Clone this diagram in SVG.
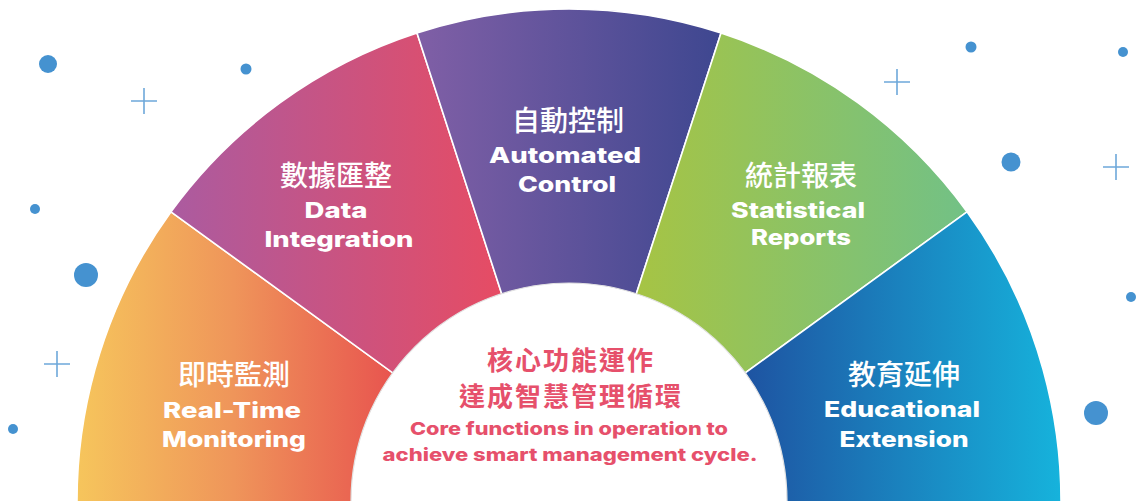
<svg xmlns="http://www.w3.org/2000/svg" width="1139" height="501" viewBox="0 0 1139 501">
  <defs>
    <linearGradient id="gOrange" gradientUnits="userSpaceOnUse" x1="75" y1="0" x2="392" y2="0">
      <stop offset="0" stop-color="#F6C65C"/>
      <stop offset="0.5" stop-color="#EF955A"/>
      <stop offset="1" stop-color="#E8554F"/>
    </linearGradient>
    <linearGradient id="gPink" gradientUnits="userSpaceOnUse" x1="171" y1="0" x2="500" y2="0">
      <stop offset="0" stop-color="#AB5BA0"/>
      <stop offset="1" stop-color="#E64C64"/>
    </linearGradient>
    <linearGradient id="gPurple" gradientUnits="userSpaceOnUse" x1="417" y1="0" x2="721" y2="0">
      <stop offset="0" stop-color="#805FA6"/>
      <stop offset="1" stop-color="#3E4790"/>
    </linearGradient>
    <linearGradient id="gGreen" gradientUnits="userSpaceOnUse" x1="632" y1="0" x2="967" y2="0">
      <stop offset="0" stop-color="#A7C443"/>
      <stop offset="1" stop-color="#72C186"/>
    </linearGradient>
    <linearGradient id="gBlue" gradientUnits="userSpaceOnUse" x1="747" y1="0" x2="1062" y2="0">
      <stop offset="0" stop-color="#1E54A2"/>
      <stop offset="1" stop-color="#16B3DC"/>
    </linearGradient>
  </defs>
  <style>
    .seg { stroke: #ffffff; stroke-width: 1.6; stroke-linejoin: round; }
    .zh { font-family: "Noto Sans CJK TC", "Noto Sans CJK SC", sans-serif; font-size: 28px; font-weight: 500; fill: #ffffff; text-anchor: middle; }
    .en { font-family: "Inter", "Noto Sans", sans-serif; font-size: 22px; font-weight: 800; fill: #ffffff; text-anchor: middle; }
    .czh { font-family: "Noto Sans CJK TC", "Noto Sans CJK SC", sans-serif; font-size: 26px; font-weight: 700; letter-spacing: 2px; fill: #E6506B; text-anchor: middle; }
    .cen { font-family: "Inter", "Noto Sans", sans-serif; font-size: 18px; font-weight: 800; fill: #E6506B; text-anchor: middle; }
    .dot { fill: #4592D0; }
    .plus { stroke: #6EA8DA; stroke-width: 1.6; fill: none; }
  </style>

  <g id="decorations">
    <circle class="dot" cx="48" cy="64" r="9"/>
    <circle class="dot" cx="246" cy="69" r="5.5"/>
    <circle class="dot" cx="35" cy="209" r="5"/>
    <circle class="dot" cx="86" cy="275" r="12"/>
    <circle class="dot" cx="13" cy="429" r="5"/>
    <circle class="dot" cx="971" cy="47" r="5.5"/>
    <circle class="dot" cx="1123" cy="52" r="5"/>
    <circle class="dot" cx="1011" cy="162" r="9.5"/>
    <circle class="dot" cx="1131" cy="297" r="5"/>
    <circle class="dot" cx="1096" cy="413" r="12"/>
    <path class="plus" d="M131,101 H157 M144,88 V114"/>
    <path class="plus" d="M44,364 H70 M57,351 V377"/>
    <path class="plus" d="M884,82 H910 M897,69 V95"/>
    <path class="plus" d="M1103,167 H1129 M1116,154 V180"/>
  </g>

  <path d="M79.5,548 A493,493 0 0 1 1058.5,548" fill="none" stroke="#dcdcdc" stroke-width="1.2"/>

  <g id="seg-realtime">
    <path class="seg" fill="url(#gOrange)" d="M569,501 L78.9,543.9 A492,492 0 0 1 171,211.8 Z"/>
    <text class="zh" x="234" y="385">即時監測</text>
    <text class="en" x="232" y="418" textLength="138" lengthAdjust="spacingAndGlyphs">Real-Time</text>
    <text class="en" x="234" y="447" textLength="144" lengthAdjust="spacingAndGlyphs">Monitoring</text>
  </g>

  <g id="seg-data">
    <path class="seg" fill="url(#gPink)" d="M569,501 L171,211.8 A492,492 0 0 1 417,33.1 Z"/>
    <text class="zh" x="336" y="186">數據匯整</text>
    <text class="en" x="336" y="218" textLength="63" lengthAdjust="spacingAndGlyphs">Data</text>
    <text class="en" x="339" y="247" textLength="149" lengthAdjust="spacingAndGlyphs">Integration</text>
  </g>

  <g id="seg-auto">
    <path class="seg" fill="url(#gPurple)" d="M569,501 L417,33.1 A492,492 0 0 1 721,33.1 Z"/>
    <text class="zh" x="568" y="131">自動控制</text>
    <text class="en" x="565" y="163" textLength="152" lengthAdjust="spacingAndGlyphs">Automated</text>
    <text class="en" x="567" y="192" textLength="98" lengthAdjust="spacingAndGlyphs">Control</text>
  </g>

  <g id="seg-stats">
    <path class="seg" fill="url(#gGreen)" d="M569,501 L721,33.1 A492,492 0 0 1 967,211.8 Z"/>
    <text class="zh" x="801" y="186">統計報表</text>
    <text class="en" x="798" y="218" textLength="134" lengthAdjust="spacingAndGlyphs">Statistical</text>
    <text class="en" x="801" y="245" textLength="100" lengthAdjust="spacingAndGlyphs">Reports</text>
  </g>

  <g id="seg-edu">
    <path class="seg" fill="url(#gBlue)" d="M569,501 L967,211.8 A492,492 0 0 1 1059.1,543.9 Z"/>
    <text class="zh" x="904" y="385">教育延伸</text>
    <text class="en" x="902" y="417" textLength="156" lengthAdjust="spacingAndGlyphs">Educational</text>
    <text class="en" x="904" y="447" textLength="129" lengthAdjust="spacingAndGlyphs">Extension</text>
  </g>

  <g id="center">
    <circle cx="569" cy="501" r="218" fill="#ffffff" stroke="#e2e2e2" stroke-width="1.2"/>
    <text class="czh" x="571" y="370">核心功能運作</text>
    <text class="czh" x="571" y="406">達成智慧管理循環</text>
    <text class="cen" x="569" y="435" textLength="318" lengthAdjust="spacingAndGlyphs">Core functions in operation to</text>
    <text class="cen" x="570" y="461" textLength="375" lengthAdjust="spacingAndGlyphs">achieve smart management cycle.</text>
  </g>

  <g id="connectors"/>
</svg>
